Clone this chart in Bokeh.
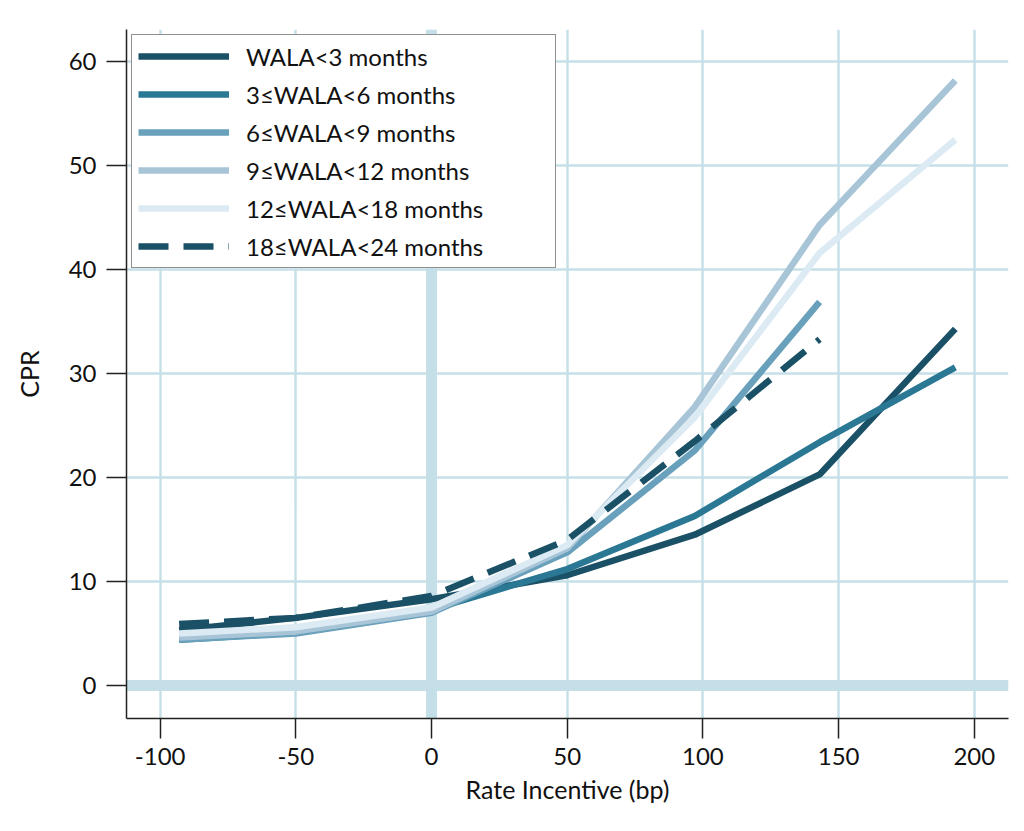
from bokeh.plotting import figure
from bokeh.models import Span, Legend, LegendItem, FixedTicker, Range1d
from bokeh.embed import file_html
from bokeh.resources import INLINE

x_vals = [-93, -50, 0, 50, 97, 143, 193]
wala_lt3 = [5.3, 6.5, 8.3, 10.6, 14.5, 20.3, 34.3]
wala_3_6 = [4.4, 5.1, 7.3, 11.2, 16.3, 23.4, 30.6]
wala_6_9 = [4.4, 5.0, 7.0, 12.8, 22.6, 36.9]
wala_9_12 = [4.6, 5.2, 7.1, 13.2, 26.8, 44.3, 58.2]
wala_12_18 = [5.0, 5.6, 7.5, 13.5, 25.8, 41.6, 52.5]
wala_18_24 = [5.9, 6.5, 8.6, 14.0, 23.5, 33.3]

labels = ["WALA<3 months", "3≤WALA<6 months", "6≤WALA<9 months",
          "9≤WALA<12 months", "12≤WALA<18 months", "18≤WALA<24 months"]
colors = ["#1b5166", "#2a7894", "#69a0bb", "#a8c5d7", "#dceaf3", "#1b5166"]
x_ticks = [-100, -50, 0, 50, 100, 150, 200]
x_tick_labels = ["-100", "-50", "0", "50", "100", "150", "200"]
y_ticks = [0, 10, 20, 30, 40, 50, 60]

FONT = "Lato"
GRID = "#c6e0e8"

p = figure(frame_width=882, frame_height=689, min_border_left=126, min_border_top=29,
           min_border_right=6, min_border_bottom=88,
           x_range=Range1d(-112.4, 212.6), y_range=Range1d(-3.18, 63.1),
           output_backend="svg", toolbar_location=None)
p.outline_line_color = None
p.background_fill_color = "white"
p.border_fill_color = "white"

p.xgrid.ticker = FixedTicker(ticks=x_ticks)
p.ygrid.ticker = FixedTicker(ticks=y_ticks)
for g in (p.xgrid[0], p.ygrid[0]):
    g.grid_line_color = GRID
    g.grid_line_width = 2.5

for ax, ticks in ((p.xaxis[0], x_ticks), (p.yaxis[0], y_ticks)):
    ax.ticker = FixedTicker(ticks=ticks)
    ax.axis_line_color = "#222222"
    ax.axis_line_width = 1.5
    ax.major_tick_line_color = "#222222"
    ax.major_tick_line_width = 1.5
    ax.major_tick_out = 20
    ax.major_tick_in = 0
    ax.minor_tick_line_color = None
    ax.major_label_text_font = FONT
    ax.major_label_text_font_size = "24px"
    ax.major_label_text_color = "#111111"
    ax.axis_label_text_font = FONT
    ax.axis_label_text_font_size = "25px"
    ax.axis_label_text_font_style = "normal"
    ax.axis_label_text_color = "#111111"

p.xaxis.major_label_overrides = {t: s for t, s in zip(x_ticks, x_tick_labels)}
p.xaxis.axis_label = "Rate Incentive (bp)"
p.yaxis.axis_label = "CPR"
p.xaxis.major_label_standoff = 9
p.yaxis.major_label_standoff = 10
p.xaxis.axis_label_standoff = 6
p.yaxis.axis_label_standoff = 22

p.add_layout(Span(location=0, dimension="height", line_color="#c5dfe8", line_width=11, level="underlay"))
p.add_layout(Span(location=0, dimension="width", line_color="#c5dfe8", line_width=11, level="underlay"))

series = [wala_lt3, wala_3_6, wala_6_9, wala_9_12, wala_12_18, wala_18_24]
items = []
for i, (ys, lab, col) in enumerate(zip(series, labels, colors)):
    xs = x_vals[:len(ys)]
    kw = dict(line_color=col, line_width=6.5)
    if i == 5:
        kw["line_dash"] = "30 15"
    r = p.line(xs, ys, **kw)
    items.append(LegendItem(label=lab, renderers=[r]))

legend = Legend(items=items, location="top_left")
legend.margin = 5
legend.padding = 6
legend.spacing = 8
legend.glyph_width = 91
legend.glyph_height = 30
legend.label_height = 30
legend.label_width = 303
legend.label_standoff = 17
legend.label_text_font = FONT
legend.label_text_font_size = "24px"
legend.label_text_color = "#111111"
legend.border_line_color = "#222222"
legend.border_line_width = 1.5
legend.background_fill_alpha = 1.0
p.add_layout(legend)

open("out.html", "w").write(file_html(p, INLINE))
